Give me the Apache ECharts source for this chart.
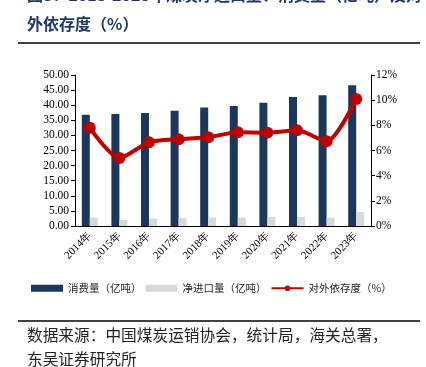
<!DOCTYPE html>
<html>
<head>
<meta charset="utf-8">
<script src="https://cdn.jsdelivr.net/npm/echarts@6/dist/echarts.min.js"></script>
<style>
  html, body { margin: 0; padding: 0; background: #fff; }
  #chart { width: 426px; height: 367px; }
</style>
</head>
<body>
<div id="chart"></div>
<script>
// 年份
var years = ['2014年', '2015年', '2016年', '2017年', '2018年', '2019年', '2020年', '2021年', '2022年', '2023年'];
// 消费量（亿吨）
var consumption = [36.8, 37.1, 37.4, 38.2, 39.2, 39.7, 40.8, 42.7, 43.3, 46.6];
// 净进口量（亿吨）
var netImport = [2.8, 2.0, 2.5, 2.6, 2.8, 2.8, 3.0, 3.0, 2.8, 4.6];
// 对外依存度（%）
var dependence = [7.8, 5.4, 6.65, 6.9, 7.05, 7.45, 7.42, 7.6, 6.73, 10.1];

var serif = 'Liberation Serif';
var cjk = 'Noto Sans CJK SC';

var myChart = echarts.init(document.getElementById('chart'));

myChart.setOption({
  backgroundColor: '#fff',
  animation: false,
  grid: { left: 75, right: 55, top: 75, bottom: 141 },
  legend: {
    left: 26,
    top: 278,
    itemWidth: 32,
    itemHeight: 7,
    itemGap: 4,
    itemTextGap: 4,
    textStyle: { fontFamily: cjk, fontSize: 10.5, color: '#222' },
    data: [
      { name: '消费量（亿吨）', icon: 'rect' },
      { name: '净进口量（亿吨）', icon: 'rect' },
      { name: '对外依存度（%）' }
    ]
  },
  xAxis: {
    type: 'category',
    data: years,
    axisLine: { lineStyle: { color: '#000', width: 1 } },
    axisTick: { length: 4, lineStyle: { color: '#000' } },
    axisLabel: { rotate: 45, margin: 8, fontFamily: serif, fontSize: 11, color: '#000' }
  },
  yAxis: [
    {
      type: 'value', min: 0, max: 50, interval: 5,
      axisLine: { show: true, lineStyle: { color: '#000' } },
      axisTick: { show: true, length: 4, lineStyle: { color: '#000' } },
      splitLine: { show: false },
      axisLabel: {
        margin: 6, fontFamily: serif, fontSize: 11.5, color: '#000',
        formatter: function (v) { return v.toFixed(2); }
      }
    },
    {
      type: 'value', min: 0, max: 12, interval: 2,
      axisLine: { show: true, lineStyle: { color: '#000' } },
      axisTick: { show: true, length: 4, lineStyle: { color: '#000' } },
      splitLine: { show: false },
      axisLabel: { margin: 5, fontFamily: serif, fontSize: 11.5, color: '#000', formatter: '{value}%' }
    }
  ],
  series: [
    {
      name: '消费量（亿吨）', type: 'bar', data: consumption,
      barWidth: 8, barGap: '0%',
      itemStyle: { color: '#1c365c' }
    },
    {
      name: '净进口量（亿吨）', type: 'bar', data: netImport,
      barWidth: 8,
      itemStyle: { color: '#d9d9d9' }
    },
    {
      name: '对外依存度（%）', type: 'line', yAxisIndex: 1, data: dependence,
      smooth: 0.25,
      symbol: 'circle', symbolSize: 12,
      lineStyle: { color: '#c00000', width: 4 },
      itemStyle: { color: '#c00000' },
      z: 5
    }
  ],
  graphic: [
    {
      type: 'text', left: 27, top: -13,
      style: { text: '图8：2013-2023年煤炭净进口量、消费量（亿吨）及对', font: 'bold 16px "Noto Sans CJK SC"', fill: '#1f3864' }
    },
    {
      type: 'text', left: 27, top: 16,
      style: { text: '外依存度（%）', font: 'bold 16px "Noto Sans CJK SC"', fill: '#1f3864' }
    },
    {
      type: 'line', shape: { x1: 18, y1: 43, x2: 420, y2: 43 },
      style: { stroke: '#000', lineWidth: 1.5 }
    },
    {
      type: 'line', shape: { x1: 18, y1: 321, x2: 420, y2: 321 },
      style: { stroke: '#000', lineWidth: 1.5 }
    },
    {
      type: 'text', left: 27, top: 327,
      style: { text: '数据来源：中国煤炭运销协会，统计局，海关总署，', font: '15.7px "Noto Sans CJK SC"', fill: '#222' }
    },
    {
      type: 'text', left: 27, top: 351,
      style: { text: '东吴证券研究所', font: '15.7px "Noto Sans CJK SC"', fill: '#222' }
    }
  ]
});
</script>
</body>
</html>
